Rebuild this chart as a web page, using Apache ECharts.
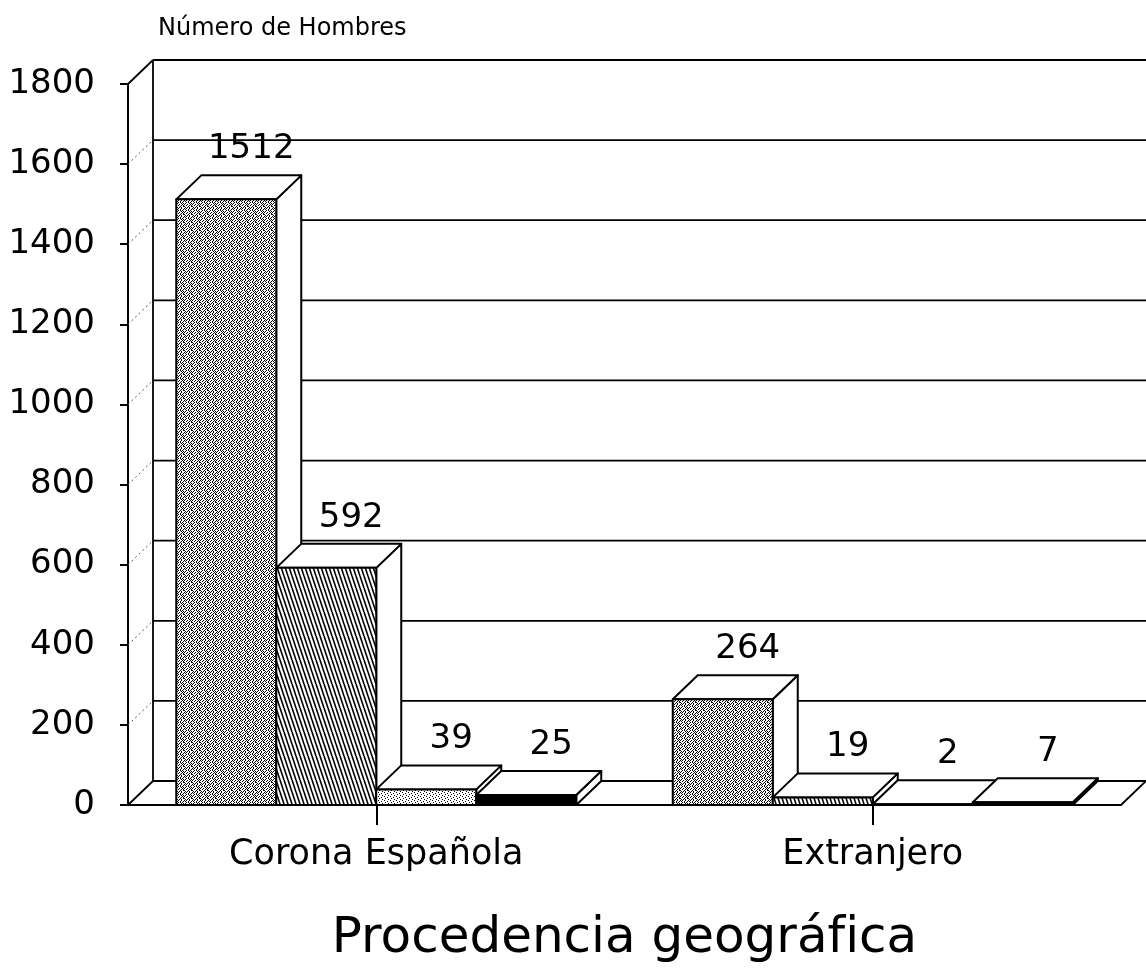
<!DOCTYPE html>
<html lang="es">
<head>
    <meta charset="UTF-8">
    <title>Procedencia geográfica</title>
    <script src="https://cdn.jsdelivr.net/npm/echarts@6/dist/echarts.min.js"></script>
    <style>
        html, body { margin: 0; padding: 0; background: #fff; }
    </style>
</head>
<body>

<div id="main" style="width: 1146px;height:971px;"></div>

<script type="text/javascript">
    // datos
    var categories = ['Corona Española', 'Extranjero'];
    var serie1 = [1512, 264];
    var serie2 = [592, 19];
    var serie3 = [39, 2];
    var serie4 = [25, 7];
    var yTicks = [0, 200, 400, 600, 800, 1000, 1200, 1400, 1600, 1800];

    var FONT = '"DejaVu Sans", sans-serif';
    var DX = 25, DY = 24;          // profundidad del efecto 3D
    var BAR_RATIO = 100 / 496.5;   // ancho de barra respecto a la banda

    // tramas de relleno
    function makePattern(w, h, draw) {
        var c = document.createElement('canvas');
        c.width = w; c.height = h;
        var ctx = c.getContext('2d');
        ctx.fillStyle = '#fff';
        ctx.fillRect(0, 0, w, h);
        ctx.fillStyle = '#000';
        ctx.strokeStyle = '#000';
        draw(ctx);
        return { image: c, repeat: 'repeat' };
    }
    function bits(rows) {
        return function (ctx) {
            rows.forEach(function (r, y) {
                for (var x = 0; x < r.length; x++) {
                    if (r[x] === '1') ctx.fillRect(x, y, 1, 1);
                }
            });
        };
    }
    var fills = [
        makePattern(8, 8, bits([
            '10100100',
            '01001001',
            '00101010',
            '01000101',
            '10010010',
            '00100101',
            '10001001',
            '01010100'
        ])),
        makePattern(4, 12, function (ctx) {
            ctx.lineWidth = 1.6;
            for (var k = -1; k <= 1; k++) {
                ctx.beginPath();
                ctx.moveTo(k * 4, 0);
                ctx.lineTo(k * 4 + 4, 12);
                ctx.stroke();
            }
        }),
        makePattern(6, 4, bits([
            '100000',
            '000100',
            '010000',
            '000010'
        ])),
        '#000'
    ];

    function renderBar(idx) {
        return function (params, api) {
            var cat = api.value(0), val = api.value(1);
            var base = api.coord([cat, 0]);
            var top = api.coord([cat, val]);
            var band = api.size([1, 0])[0];
            var w = band * BAR_RATIO;
            var x0 = base[0] - 2 * w + idx * w;
            var x1 = x0 + w;
            var yb = base[1], yt = top[1];
            var line = { stroke: '#000', lineWidth: 2, lineJoin: 'round' };
            return {
                type: 'group',
                children: [
                    {
                        type: 'polygon',
                        shape: { points: [[x1, yt], [x1 + DX, yt - DY], [x1 + DX, yb - DY], [x1, yb]] },
                        style: Object.assign({ fill: '#fff' }, line)
                    },
                    {
                        type: 'polygon',
                        shape: { points: [[x0, yt], [x0 + DX, yt - DY], [x1 + DX, yt - DY], [x1, yt]] },
                        style: Object.assign({ fill: '#fff' }, line)
                    },
                    {
                        type: 'rect',
                        shape: { x: x0, y: yt, width: w, height: yb - yt },
                        style: Object.assign({ fill: fills[idx] }, line)
                    },
                    {
                        type: 'text',
                        style: {
                            x: x0 + w / 2 + DX, y: yt - DY - 26,
                            text: String(val), align: 'center', verticalAlign: 'middle',
                            font: '34px ' + FONT, fill: '#000'
                        }
                    }
                ]
            };
        };
    }

    // pared del fondo, suelo y líneas de cuadrícula
    function renderWall(params, api) {
        var cs = params.coordSys;
        var v = api.value(0);
        var y = api.coord([0, v])[1];
        var gx = cs.x, gr = cs.x + cs.width;
        var solid = { stroke: '#000', lineWidth: 1.8 };
        var children = [
            {
                type: 'line',
                shape: { x1: gx + DX, y1: y - DY, x2: gr + DX, y2: y - DY },
                style: solid
            },
            {
                type: 'line',
                shape: { x1: gx, y1: y, x2: gx + DX, y2: y - DY },
                style: (v === 0 || v === yTicks[yTicks.length - 1]) ? solid
                    : { stroke: '#555', lineWidth: 1, lineDash: [2, 3] }
            }
        ];
        if (v === 0) {
            children.push({
                type: 'line',
                shape: { x1: gx + DX, y1: cs.y - DY, x2: gx + DX, y2: y - DY },
                style: solid
            });
            children.push({
                type: 'line',
                shape: { x1: gr, y1: y, x2: gr + DX, y2: y - DY },
                style: solid
            });
        }
        return { type: 'group', children: children };
    }

    var myChart = echarts.init(document.getElementById('main'));

    myChart.setOption({
        animation: false,
        backgroundColor: '#fff',
        title: {
            text: 'Número de Hombres',
            left: 153,
            top: 12,
            textStyle: { fontFamily: FONT, fontSize: 24, fontWeight: 'normal', color: '#000' }
        },
        grid: {
            left: 128,
            right: 25,
            top: 84,
            bottom: 166
        },
        xAxis: {
            type: 'category',
            data: categories,
            name: 'Procedencia geográfica',
            nameLocation: 'middle',
            nameGap: 109,
            nameTextStyle: { fontFamily: FONT, fontSize: 50, fontWeight: 'normal', color: '#000' },
            axisLine: { lineStyle: { color: '#000', width: 2 } },
            axisTick: { show: true, alignWithLabel: true, length: 20, lineStyle: { color: '#000', width: 2 } },
            axisLabel: { margin: 32, fontFamily: FONT, fontSize: 35, color: '#000' },
            splitLine: { show: false }
        },
        yAxis: {
            type: 'value',
            min: 0,
            max: 1800,
            interval: 200,
            axisLine: { show: true, lineStyle: { color: '#000', width: 2 } },
            axisTick: { show: true, length: 8, lineStyle: { color: '#000', width: 2 } },
            axisLabel: {
                margin: 33, fontFamily: FONT, fontSize: 34, color: '#000',
                formatter: function (v) { return String(v); }
            },
            splitLine: { show: false }
        },
        series: [
            {
                type: 'custom',
                renderItem: renderWall,
                data: yTicks.map(function (v) { return [v]; }),
                encode: { y: 0 },
                silent: true,
                z: 1
            },
            {
                type: 'custom', renderItem: renderBar(0), z: 2,
                data: serie1.map(function (v, i) { return [i, v]; })
            },
            {
                type: 'custom', renderItem: renderBar(1), z: 3,
                data: serie2.map(function (v, i) { return [i, v]; })
            },
            {
                type: 'custom', renderItem: renderBar(2), z: 4,
                data: serie3.map(function (v, i) { return [i, v]; })
            },
            {
                type: 'custom', renderItem: renderBar(3), z: 5,
                data: serie4.map(function (v, i) { return [i, v]; })
            }
        ]
    });
</script>

</body>
</html>
